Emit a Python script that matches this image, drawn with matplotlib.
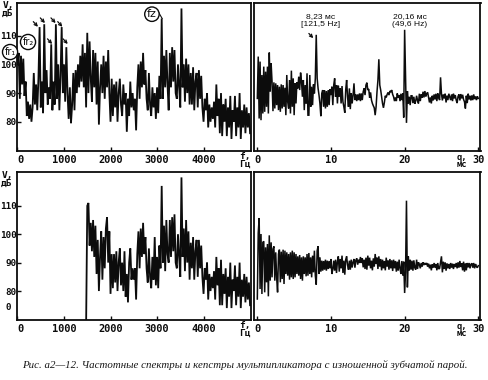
import numpy as np
import matplotlib
matplotlib.use("Agg")
import matplotlib.pyplot as plt
from matplotlib.transforms import ScaledTranslation

# ======= Data =======
FREQ_STEP = 25      # Hz per bin
QUEF_STEP = 0.125   # ms per bin

spectrum_top = [
    100, 104, 88, 103, 93, 102, 89, 94, 82, 87,
    81, 86, 80, 85, 97, 86, 93, 84, 95, 113,
    85, 94, 83, 114, 90, 98, 86, 92, 88, 107,
    84, 94, 86, 114, 88, 100, 84, 96, 113, 90,
    100, 87, 106, 90, 81, 92, 79.5, 86, 97, 84,
    98, 90, 100, 92, 103, 94, 107, 92, 104, 85,
    111, 90, 108, 95, 87, 105, 92, 104, 86, 101,
    79, 92, 100, 90, 103, 88, 101, 92, 105, 90,
    80, 95, 82, 93, 85, 94, 80, 90, 95, 86,
    82, 93, 86, 90, 76.5, 88, 82, 94, 85, 90,
    84, 88, 77, 92, 100, 88, 101, 92, 104, 93,
    98, 88, 84, 97, 86, 82, 92, 85, 90, 81,
    92, 83, 96, 88, 116, 88, 103, 92, 105, 93,
    84, 104, 92, 106, 94, 105, 90, 88, 100, 92,
    85, 119.5, 92, 100, 87, 102, 90, 100, 86, 97,
    86, 99, 84, 94, 97, 85, 98, 88, 96, 85,
    80, 88, 84, 90, 78, 86, 80, 85, 81, 87,
    78, 93, 82, 88, 76, 90, 75, 86, 80, 88,
    75, 85, 78, 89, 74, 84, 80, 89, 75, 85,
    78, 90, 74, 84, 78, 86, 76, 85, 78, 83,
    76,
]

# starts one bin before 1500 Hz, where the filter opens
spectrum_bottom_start = 1475
spectrum_bottom = [
    68,
    110, 111, 96, 104, 94, 105, 92, 103, 86, 98,
    80, 92, 101, 84, 99, 88, 102, 106, 90, 101,
    79, 93, 81, 93, 83, 94, 80, 90, 95, 82,
    90, 80, 94, 78, 86, 76, 90, 95, 84, 88,
    84, 88, 77, 93, 101, 88, 102, 92, 104, 93,
    99, 88, 83, 95, 85, 81, 92, 84, 99, 82,
    92, 81, 96, 88, 117, 90, 103, 87, 105, 93,
    90, 105, 92, 106, 94, 107, 90, 88, 100, 92,
    85, 120, 92, 102, 87, 105, 90, 101, 84, 97,
    88, 99, 84, 94, 98, 85, 98, 88, 96, 85,
    79, 88, 84, 90, 77, 86, 80, 85, 81, 87,
    77, 92, 82, 88, 75, 91, 75, 86, 79, 88,
    74, 85, 78, 90, 74, 84, 80, 89, 75, 85,
    78, 90, 74, 84, 78, 86, 76, 85, 77, 83,
    75,
]

# cepstrum amplitudes, arbitrary units above the baseline, 8 bins per ms
cepstrum_top = [
    0, 125, -60, 110, -65, 70, -45, 95,
    -40, 80, -25, 95, -45, 137, 20, 105,
    50, -38, 48, -30, 45, -20, 40, -35,
    35, -40, 42, -30, 40, -25, 32, -50,
    70, -10, -30, 55, -45, 83, -25, 60,
    -50, 45, -15, 48, 30, 65, 25, 77,
    50, 5, 55, -35, 40, -15, 75, -50,
    -50, 70, -25, 35, -20, 42, 15, 60,
    190, 60, 30, 10, -15, -53, 15, 25,
    -25, 25, -30, 22, -25, 25, -20, 28,
    10, 35, -20, 40, 60, 5, 40, -15,
    38, 5, 30, -15, 37, -10, -25, -43,
    25, 55, 5, -25, 30, -32, 15, -15,
    10, 45, -5, 12, -8, 12, -5, 15,
    -8, 15, -5, 20, 30, 10, 40, 47,
    25, 28, 2, 18, -5, -15, -22, -28,
    -50, -25, 20, 55, 117, 40, 25, 5,
    -15, -28, -12, 8, 3, 12, 18, 10,
    22, 20, 25, 12, 5, -8, 3, -8,
    15, 2, 10, -8, 14, -5, 15, -57,
    205, 60, -73, 22, -15, 5, -20, 8,
    8, -14, 5, -16, -8, 8, -6, -15,
    14, -8, 12, 2, 20, 3, 22, 6,
    15, 18, 3, -12, 3, -15, 8, -6,
    12, -3, 14, -8, 15, 2, -5, 63,
    14, -6, 12, 0, 14, -12, 8, -5,
    14, 4, -5, 12, -8, 14, 0, 10,
    -5, -14, 6, 12, -6, 13, 0, 11,
    -3, -10, -30, 8, -14, 14, -3, 8,
    -6, 9, -5, 12, -2, 6, -5, 6,
    0,
]

cepstrum_bottom = [
    -100, 98, 143, -70, 95, -85, 70, 73,
    -80, 55, -50, 65, -92, 91, -45, 70,
    -35, 50, 58, -45, 40, -35, -80, 35,
    48, -50, 42, -40, 48, -55, 45, -25,
    40, -30, 35, -42, 40, -35, 45, -40,
    40, -35, 35, -25, 28, -30, 32, -40,
    25, -45, 28, -25, 25, -32, 35, -30,
    38, -25, 25, -35, 30, -20, 45, -30,
    -57, 45, 58, -25, 25, -18, 15, -15,
    14, -12, 18, -15, 15, -10, 14, -8,
    20, -25, -10, 15, -15, 18, -22, 12,
    28, -18, 20, -8, 30, -22, 15, -27,
    18, 28, 2, -12, 15, -12, 18, -5,
    10, 20, -6, 16, 22, 3, 18, 8,
    26, 8, 22, -5, 18, -10, 24, -12,
    30, 0, 24, -8, 15, -14, 22, -3,
    35, 5, 24, -10, 28, -3, 20, -14,
    18, -8, 14, -14, 24, -3, 16, -12,
    20, -8, 16, -16, 18, -8, 14, -18,
    12, -15, 18, -8, -25, 14, -30, 12,
    -82, -20, 195, -65, 28, -15, 18, -12,
    15, -15, 16, -6, -12, 18, -10, 10,
    4, -8, 8, -3, 10, 2, 8, 3,
    8, -3, 6, -8, 3, -14, 4, -6,
    8, -6, 5, -14, 8, -10, -8, 10,
    28, -20, 12, -10, 10, -15, 7, -8,
    5, -10, 8, -6, 6, -10, 5, -4,
    8, -8, 10, -6, 14, -4, 7, -14,
    12, -18, 7, -14, 8, -5, 8, -8,
    4, 7, -6, 8, -8, 5, -3, -6,
    0,
]

freq_ticks = [0, 1000, 2000, 3000, 4000]
level_ticks = [80, 90, 100, 110]
quef_ticks = [0, 10, 20, 30]
sideband_arrows_hz = [390, 540, 770, 915, 695, 1030]
sideband_arrows_db = [114, 115.3, 115.3, 114, 108, 108]

caption = "Рис. а2—12. Частотные спектры и кепстры мультипликатора с изношенной зубчатой парой."

# ======= Layout =======
W, H = 489, 380
INK = "#0c0c0c"
MONO = "DejaVu Sans Mono"

fig = plt.figure(figsize=(W / 100, H / 100), dpi=100)


def panel(left, right, top, bottom):
    ax = fig.add_axes([left / W, 1 - bottom / H, (right - left) / W, (bottom - top) / H])
    for spine in ax.spines.values():
        spine.set_linewidth(1.3)
        spine.set_color(INK)
    return ax


def style_ticks(ax, xticks, yticks=(), shift_first=0):
    ax.set_xticks(xticks)
    ax.set_yticks(list(yticks))
    ax.tick_params(axis="both", direction="in", length=3, width=1, color=INK, labelcolor=INK)
    ax.tick_params(axis="x", pad=3, labelsize=7.4)
    ax.tick_params(axis="y", pad=0.5, labelsize=6.7)
    for label in ax.get_xticklabels() + ax.get_yticklabels():
        label.set_family(MONO)
        label.set_weight("bold")
    if shift_first:
        first = ax.get_xticklabels()[0]
        first.set_transform(first.get_transform() + ScaledTranslation(shift_first / 100, 0, fig.dpi_scale_trans))


def trace(ax, x, y, lw=1.3):
    ax.plot(x, y, color=INK, lw=lw, solid_joinstyle="miter")


def fig_label(x, y, text, size=7.4, **kw):
    fig.text(x / W, 1 - y / H, text, fontsize=size, family=MONO, weight="bold", color=INK,
             ha="center", va="center", linespacing=0.85, **kw)


ax_tl = panel(17.5, 251, 3, 151)
ax_tr = panel(254, 480.5, 3, 151)
ax_bl = panel(17.5, 251, 172, 320)
ax_br = panel(254, 480.5, 172, 320)

# ======= Spectra =======
freq_top = np.arange(len(spectrum_top)) * FREQ_STEP
freq_bottom = spectrum_bottom_start + np.arange(len(spectrum_bottom)) * FREQ_STEP
trace(ax_tl, freq_top, spectrum_top)
trace(ax_bl, freq_bottom, spectrum_bottom)
for ax in (ax_tl, ax_bl):
    ax.set_xlim(0, 5020)
    style_ticks(ax, freq_ticks, level_ticks, shift_first=3)
ax_tl.set_ylim(69.8, 121.4)
ax_bl.set_ylim(69.8, 121.9)

# ======= Cepstra =======
quef_top = np.arange(len(cepstrum_top)) * QUEF_STEP
quef_bottom = np.arange(len(cepstrum_bottom)) * QUEF_STEP
trace(ax_tr, quef_top, cepstrum_top, lw=1.1)
trace(ax_br, quef_bottom, cepstrum_bottom, lw=1.1)
for ax in (ax_tr, ax_br):
    ax.set_xlim(-0.45, 30.3)
    style_ticks(ax, quef_ticks)
ax_tr.set_ylim(-157, 285)
ax_br.set_ylim(-163, 281)

# ======= Annotations =======
circle = dict(boxstyle="circle,pad=0.2", fc="white", ec=INK, lw=1)
for f, db, name, size in [(-160, 104.3, "fr₁", 7), (226, 107.8, "fr₂", 7), (2890, 117.5, "fz", 8)]:
    ax_tl.text(f, db, name, fontsize=size, ha="center", va="center", bbox=circle,
               clip_on=False, color=INK, zorder=5)
ax_tl.plot([3020, 3110], [118.5, 116], color=INK, lw=0.8)

arrow = dict(arrowstyle="->", lw=0.9, color=INK, mutation_scale=5, shrinkA=0, shrinkB=0)
for f, db in zip(sideband_arrows_hz, sideband_arrows_db):
    ax_tl.annotate("", xy=(f + 50, db - 0.9), xytext=(f - 50, db + 0.9), arrowprops=arrow)
ax_tr.annotate("", xy=(7.6, 180), xytext=(7.0, 194), arrowprops=arrow)

ax_tr.text(8.56, 233, "8,23 мс\n[121,5 Hz]", fontsize=6.1, family="Liberation Sans",
           ha="center", va="center", color=INK, linespacing=1.15)
ax_tr.text(20.7, 233, "20,16 мс\n(49,6 Hz)", fontsize=6.1, family="Liberation Sans",
           ha="center", va="center", color=INK, linespacing=1.15)

# ======= Axis names drawn by the scope =======
fig_label(8, 9, "V,\nдБ", size=6.8)
fig_label(7, 179, "V,\nдБ", size=6.8)
fig_label(8, 307, "0", size=6.7)
fig_label(245, 160, "f,\nГц", size=6.8)
fig_label(245, 329, "f,\nГц", size=6.8)
fig_label(462, 161, "q,\nмс", size=6.3)
fig_label(462, 330, "q,\nмс", size=6.3)

fig.text(245 / W, 1 - 365 / H, caption, fontsize=7.87, family="Liberation Serif", style="italic",
         color="#161616", ha="center", va="center")

# ======= Save =======
fig.savefig("out.png", dpi=100)
plt.close(fig)
